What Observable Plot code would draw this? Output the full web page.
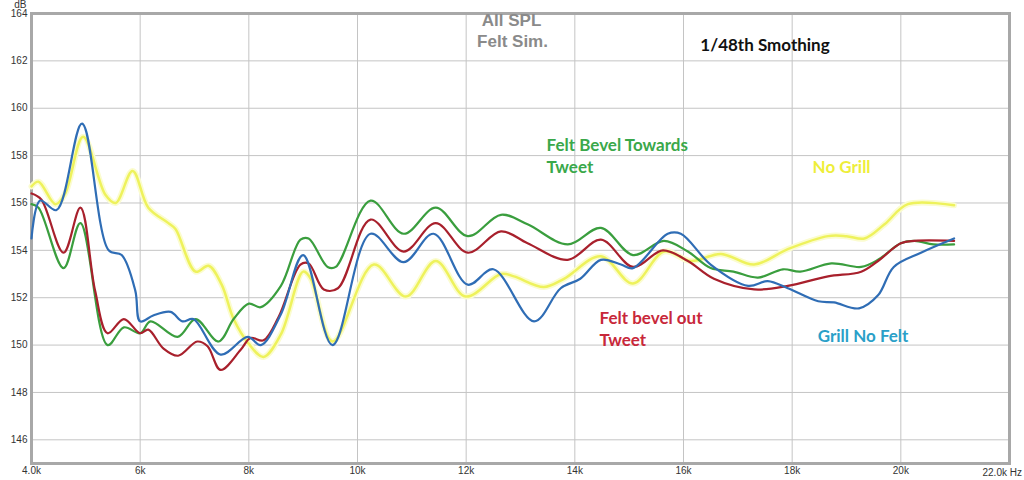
<!DOCTYPE html>
<html><head><meta charset="utf-8">
<script src="https://cdn.jsdelivr.net/npm/d3@7"></script>
<script src="https://cdn.jsdelivr.net/npm/@observablehq/plot@0.6"></script>
<style>body{margin:0;background:#fff}</style>
</head><body><div id="chart"></div>
<script>
// Frequencies in kHz, levels in dB
const xTicks = [4, 6, 8, 10, 12, 14, 16, 18, 20, 22];
const yTicks = [146, 148, 150, 152, 154, 156, 158, 160, 162, 164];

const grillNoFeltFreq = [4.0,4.16,4.46,4.93,5.42,5.66,5.91,6.0,6.24,6.56,6.78,6.98,7.48,7.98,8.22,8.59,9.0,9.54,10.24,10.85,11.4,12.03,12.5,13.25,13.74,14.1,14.48,14.85,15.07,15.71,15.95,16.5,17.19,17.55,17.92,18.48,18.77,19.23,19.58,19.87,20.37,20.98];
const grillNoFeltDb   = [154.5,156.1,155.7,159.35,154.0,153.8,152.3,151.0,151.25,151.4,151.0,151.1,149.6,150.35,150.0,151.3,153.8,150.0,154.7,153.5,154.7,152.55,153.2,151.0,152.4,152.8,153.6,153.4,153.25,154.7,154.7,153.4,152.5,152.7,152.4,151.85,151.8,151.55,152.1,153.3,153.9,154.5];

const bevelOutFreq = [4.0,4.18,4.59,4.9,5.17,5.4,5.7,6.0,6.15,6.43,6.7,7.05,7.24,7.48,7.85,8.03,8.27,8.55,8.95,9.1,9.38,9.64,10.24,10.85,11.44,12.03,12.64,13.13,13.87,14.48,15.07,15.62,16.08,16.56,17.3,17.92,18.66,19.27,19.58,20.0,20.25,20.98];
const bevelOutDb   = [156.4,156.15,153.9,155.8,152.3,150.5,151.1,150.5,150.65,149.85,149.55,150.15,149.95,148.95,149.8,150.3,150.2,151.2,153.4,153.45,152.35,152.4,155.3,153.95,155.15,153.9,154.8,154.3,153.6,154.45,153.3,154.0,153.55,152.8,152.35,152.5,152.9,153.1,153.55,154.3,154.4,154.4];

const bevelTowardsFreq = [4.0,4.13,4.59,4.9,5.4,5.7,6.0,6.19,6.69,7.02,7.44,7.72,8.0,8.22,8.59,8.95,9.1,9.45,9.6,10.24,10.85,11.44,12.03,12.64,13.13,13.87,14.48,15.07,15.64,16.08,16.5,16.92,17.37,17.83,18.15,18.72,19.27,19.58,20.0,20.25,20.6,20.98];
const bevelTowardsDb   = [155.95,155.8,153.25,155.15,150.0,150.75,150.5,151.0,150.35,151.1,150.15,151.1,151.75,151.6,152.5,154.45,154.5,153.3,153.3,156.1,154.7,155.8,154.6,155.5,155.1,154.25,154.95,153.8,154.4,153.95,153.25,153.1,152.85,153.2,153.1,153.45,153.3,153.6,154.3,154.4,154.25,154.25];

const noGrillFreq = [4.0,4.13,4.44,4.62,4.95,5.36,5.55,5.86,6.15,6.52,6.65,7.02,7.26,7.5,7.72,8.0,8.27,8.59,9.0,9.14,9.54,10.3,10.89,11.44,11.99,12.64,12.88,13.43,13.8,14.48,15.07,15.64,16.14,16.69,17.3,17.92,18.66,19.0,19.33,19.7,20.13,20.98];
const noGrillDb   = [156.7,156.9,155.95,156.4,158.8,156.35,156.0,157.35,155.8,155.15,154.9,153.1,153.35,152.55,151.1,150.05,149.5,150.45,153.1,152.8,150.15,153.4,152.05,153.55,152.05,153.0,152.9,152.45,152.8,153.75,152.6,153.95,153.55,153.85,153.4,154.05,154.6,154.6,154.5,155.1,155.95,155.9];

const toRows = (fs, ds) => fs.map((f, i) => ({f, db: ds[i]}));
const grillNoFelt = toRows(grillNoFeltFreq, grillNoFeltDb);
const bevelOut = toRows(bevelOutFreq, bevelOutDb);
const bevelTowards = toRows(bevelTowardsFreq, bevelTowardsDb);
const noGrill = toRows(noGrillFreq, noGrillDb);

const lbl = {fontFamily: "Lato, 'Open Sans', sans-serif", fontWeight: "bold", fontSize: 17, textAnchor: "start"};
const line = (data, stroke, w) => Plot.line(data, {x: "f", y: "db", stroke, strokeWidth: w, curve: "catmull-rom"});

const chart = Plot.plot({
  width: 1024, height: 480,
  marginLeft: 31, marginRight: 15, marginTop: 13, marginBottom: 17,
  style: {fontFamily: "'Liberation Sans', Arial, sans-serif", fontSize: "10px", color: "#333", background: "#fff"},
  x: {domain: [4, 22]},
  y: {domain: [145, 164]},
  marks: [
    Plot.gridX(xTicks, {stroke: "#c4c4c4", strokeOpacity: 1}),
    Plot.gridY(yTicks, {stroke: "#c4c4c4", strokeOpacity: 1}),
    Plot.frame({stroke: "#a8a8a8", strokeWidth: 3}),
    Plot.axisY(yTicks, {tickSize: 0, tickPadding: 4, label: null}),
    Plot.axisX(xTicks.filter(d => d < 22), {tickSize: 0, tickPadding: 3, label: null, tickFormat: d => d === 4 ? "4.0k" : d + "k"}),
    Plot.text(["22.0k Hz"], {x: () => 22, y: () => 145, dy: 9, dx: -27, fontSize: 10, textAnchor: "start", fill: "#333"}),
    Plot.text(["dB"], {frameAnchor: "top-left", dx: -5, dy: -6, textAnchor: "end", lineAnchor: "bottom", fontSize: 10, fill: "#333"}),
    line(noGrill, "#fbfccf", 6),
    line(noGrill, "#eef25c", 2.5),
    line(bevelTowards, "#3a9e3e", 2.2),
    line(bevelOut, "#a8202c", 2.2),
    line(grillNoFelt, "#2f6db5", 2.2),
    Plot.text(["All SPL"], {x: () => 12.835, y: () => 163.7, fill: "#8a8a8a", fontSize: 17, fontWeight: "bold", fontFamily: "'Liberation Sans', Arial, sans-serif"}),
    Plot.text(["Felt Sim."], {x: () => 12.853, y: () => 162.82, fill: "#8a8a8a", fontSize: 17, fontWeight: "bold", fontFamily: "'Liberation Sans', Arial, sans-serif"}),
    Plot.text(["1/48th Smothing"], {...lbl, x: () => 16.31, y: () => 162.65, fill: "#111"}),
    Plot.text(["Felt Bevel Towards"], {...lbl, x: () => 13.48, y: () => 158.43, fill: "#3aa84a"}),
    Plot.text(["Tweet"], {...lbl, x: () => 13.48, y: () => 157.5, fill: "#3aa84a"}),
    Plot.text(["No Grill"], {...lbl, x: () => 18.375, y: () => 157.5, fill: "#eeee3a"}),
    Plot.text(["Felt bevel out"], {...lbl, x: () => 14.455, y: () => 151.12, fill: "#c8283a"}),
    Plot.text(["Tweet"], {...lbl, x: () => 14.455, y: () => 150.19, fill: "#c8283a"}),
    Plot.text(["Grill No Felt"], {...lbl, x: () => 18.47, y: () => 150.36, fill: "#2aa0c8"})
  ]
});
document.getElementById("chart").append(chart);
</script>
</body></html>
